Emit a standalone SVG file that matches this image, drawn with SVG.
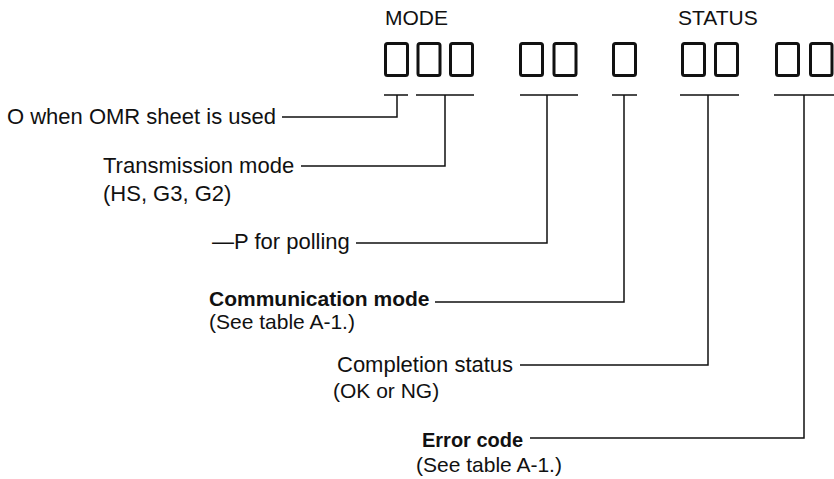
<svg xmlns="http://www.w3.org/2000/svg" width="834" height="479" viewBox="0 0 834 479">
<style>
.t{font-family:"Liberation Sans",Arial,Helvetica,sans-serif;font-size:21px;fill:#111}
.l{font-size:22px}
.b{font-weight:bold}
.box{fill:none;stroke:#111;stroke-width:3}
.ln{fill:none;stroke:#111;stroke-width:1.5}
</style>
<rect width="834" height="479" fill="#fff"/>
<g id="label-mode"><text class="t" x="385" y="25">MODE</text></g>
<g id="label-status"><text class="t" x="678" y="25">STATUS</text></g>
<g id="boxes">
<rect class="box" x="385.5" y="43.5" width="22" height="32" rx="2"/>
<rect class="box" x="418" y="43.5" width="22" height="32" rx="2"/>
<rect class="box" x="450.5" y="43.5" width="22" height="32" rx="2"/>
<rect class="box" x="520.5" y="43.5" width="22" height="32" rx="2"/>
<rect class="box" x="554" y="43.5" width="22" height="32" rx="2"/>
<rect class="box" x="613.5" y="43.5" width="22" height="32" rx="2"/>
<rect class="box" x="682.5" y="43.5" width="22" height="32" rx="2"/>
<rect class="box" x="715.5" y="43.5" width="22" height="32" rx="2"/>
<rect class="box" x="776.5" y="43.5" width="22" height="32" rx="2"/>
<rect class="box" x="810.5" y="43.5" width="21.5" height="32" rx="2"/>
</g>
<g id="node-omr"><text class="t l" x="7" y="124">O when OMR sheet is used</text></g>
<g id="node-transmission"><text class="t l" x="103" y="173">Transmission mode</text><text class="t l" x="103" y="201">(HS, G3, G2)</text></g>
<g id="node-polling"><text class="t l" x="212" y="249">—P for polling</text></g>
<g id="node-communication"><text class="t b" x="209" y="306">Communication mode</text><text class="t" x="209" y="329">(See table A-1.)</text></g>
<g id="node-completion"><text class="t l" x="337" y="372">Completion status</text><text class="t" x="333" y="398">(OK or NG)</text></g>
<g id="node-error"><text class="t b" x="422" y="447" style="font-size:20px">Error code</text><text class="t" x="416" y="472">(See table A-1.)</text></g>
<g id="connectors">
<path class="ln" d="M384 95H408M397 95V117H282"/>
<path class="ln" d="M416 95H474M445 95V166H301"/>
<path class="ln" d="M520 95H578M547 95V243H356"/>
<path class="ln" d="M612 95H637M624 95V302H435"/>
<path class="ln" d="M680 95H739M708 95V365H520"/>
<path class="ln" d="M774 95H834M804 95V438H530"/>
</g>
</svg>
